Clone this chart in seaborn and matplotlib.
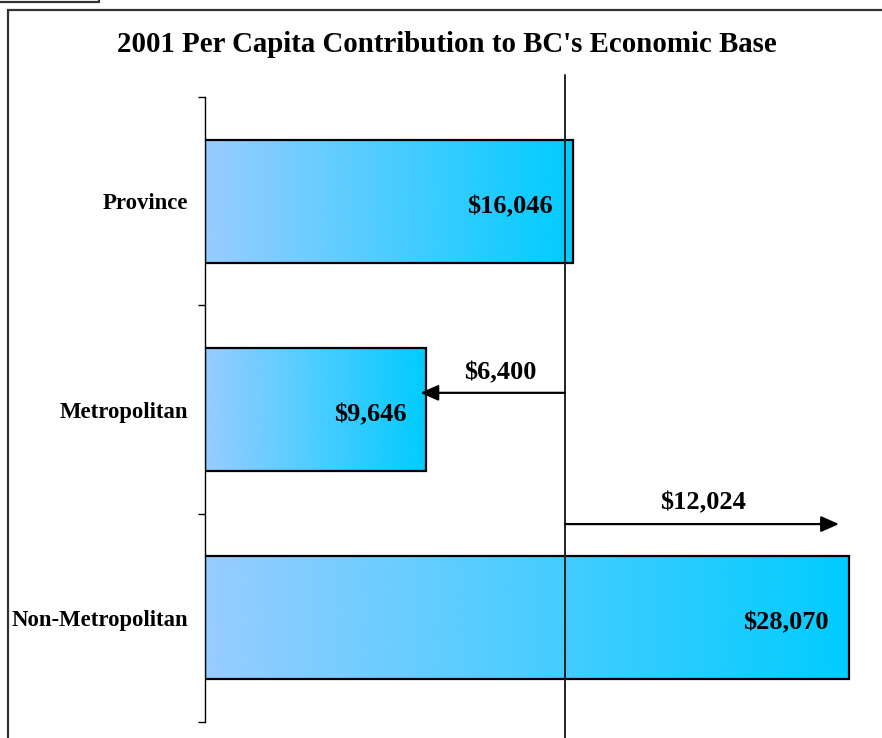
import numpy as np
import pandas as pd
import matplotlib
matplotlib.use("Agg")
import matplotlib.pyplot as plt
import seaborn as sns
from matplotlib.colors import LinearSegmentedColormap
from matplotlib.patches import Rectangle
from matplotlib.lines import Line2D

# ---- data ----
categories = ["Province", "Metropolitan", "Non-Metropolitan"]
values = [16046, 9646, 28070]
value_labels = ["$16,046", "$9,646", "$28,070"]
diff_labels = ["$6,400", "$12,024"]
title = "2001 Per Capita Contribution to BC's Economic Base"

sns.set_theme(style="white")
plt.rcParams["font.family"] = ["Liberation Serif", "DejaVu Serif"]
plt.rcParams["font.weight"] = "bold"
plt.rcParams["text.color"] = "black"
plt.rcParams["ytick.labelcolor"] = "black"
plt.rcParams["axes.labelcolor"] = "black"

W, H = 882, 738
fig = plt.figure(figsize=(W / 100, H / 100), dpi=100)
fig.patch.set_facecolor("white")

# axes placed in pixel terms
ax_l, ax_r, ax_t, ax_b = 205, 870, 97, 722
ax = fig.add_axes([ax_l / W, (H - ax_b) / H, (ax_r - ax_l) / W, (ax_b - ax_t) / H])

df = pd.DataFrame({"category": categories, "value": values})
sns.barplot(data=df, x="value", y="category", orient="h", width=0.59,
            color="#66CCFF", edgecolor="black", linewidth=1.6, ax=ax)

xmax = 29000
ax.set_xlim(0, xmax)
ax.set_ylim(2.5, -0.5)

# gradient fill for each bar
cmap = LinearSegmentedColormap.from_list("grad", ["#99CCFF", "#00CCFF"])
grad = np.linspace(0, 1, 256).reshape(1, -1)
for p in list(ax.patches):
    x0, y0 = p.get_x(), p.get_y()
    w, h = p.get_width(), p.get_height()
    p.set_facecolor("none")
    p.set_zorder(3)
    im = ax.imshow(grad, cmap=cmap, aspect="auto", extent=[x0, x0 + w, y0 + h, y0],
                   zorder=2, interpolation="bicubic")
    im.set_clip_path(p)
ax.set_xlim(0, xmax)
ax.set_ylim(2.5, -0.5)

# spines / ticks
for s in ["top", "right", "bottom"]:
    ax.spines[s].set_visible(False)
ax.spines["left"].set_color("black")
ax.spines["left"].set_linewidth(1.0)
ax.set_xticks([])
ax.set_xlabel("")
ax.set_ylabel("")
ax.set_yticks(range(len(categories)))
ax.set_yticklabels(categories, fontsize=16.4, fontweight="bold", color="black",
                   family=["Liberation Serif", "DejaVu Serif"])
ax.tick_params(axis="y", which="major", length=0, pad=12)
ax.set_yticks([-0.5, 0.5, 1.5, 2.5], minor=True)
ax.tick_params(axis="y", which="minor", length=5, width=1.0, color="black", left=True)
ax.grid(False)

# value labels inside bars
for i, (v, lab) in enumerate(zip(values, value_labels)):
    ax.text(v - xmax * 0.03, i + 0.025, lab, ha="right", va="center", fontsize=19,
            fontweight="bold", color="black", zorder=5)

# reference line near province value
ref = values[0] - 350
ax.axvline(ref, ymin=-0.03, ymax=1.035, color="#222222", linewidth=1.4,
           clip_on=False, zorder=4)

# difference arrows
arrow_kw = dict(arrowstyle="-|>,head_length=0.9,head_width=0.4", color="black", lw=1.6,
                shrinkA=0, shrinkB=0)
ax.annotate("", xy=(values[1] - 250, 0.92), xytext=(ref, 0.92),
            arrowprops=arrow_kw, zorder=6)
ax.text((ref + values[1]) / 2 + 200, 0.825, diff_labels[0], ha="center", va="center",
        fontsize=19, fontweight="bold", color="black")
ax.annotate("", xy=(values[2] - 425, 1.55), xytext=(ref, 1.55),
            arrowprops=arrow_kw, zorder=6)
ax.text((ref + values[2]) / 2 - 150, 1.45, diff_labels[1], ha="center", va="center",
        fontsize=19, fontweight="bold", color="black")

# title
fig.text(447 / W, 1 - 45 / H, title, ha="center", va="center", fontsize=20.8,
         fontweight="bold", color="black")

# outer frames
frame = Rectangle((8 / W, -0.01), 1.0, 1 - 9.5 / H + 0.01, transform=fig.transFigure,
                  fill=False, edgecolor="#333333", linewidth=1.6)
fig.add_artist(frame)
fig.add_artist(Line2D([0, 99 / W], [1 - 1.5 / H, 1 - 1.5 / H], transform=fig.transFigure,
                      color="#333333", linewidth=1.6))
fig.add_artist(Line2D([99 / W, 99 / W], [1 - 1.5 / H, 1.0], transform=fig.transFigure,
                      color="#333333", linewidth=1.6))

fig.savefig("out.png", dpi=100)
